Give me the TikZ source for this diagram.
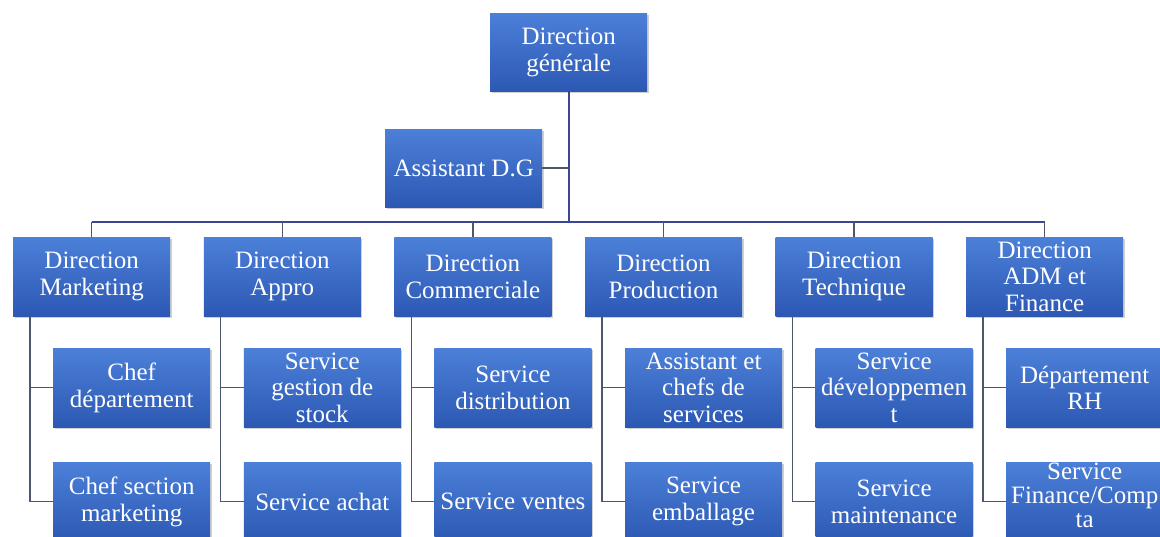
\documentclass[tikz,border=0pt]{standalone}
\usepackage{fontspec}
\setmainfont{Liberation Serif}
\usetikzlibrary{shadows}
\definecolor{boxtop}{RGB}{76,128,216}
\definecolor{boxbot}{RGB}{44,88,180}
\definecolor{trunk}{RGB}{58,70,150}
\definecolor{conn}{RGB}{78,86,108}
\tikzset{
  orgbox/.style={anchor=north west, minimum width=157pt, minimum height=79pt,
    inner sep=0pt, top color=boxtop, bottom color=boxbot, draw=none, text=white,
    align=center, font=\fontsize{25}{26.7}\selectfont,
    drop shadow={shadow xshift=1.5pt, shadow yshift=-2pt, opacity=0.3, fill=black!60}},
  link/.style={draw=conn, line width=1.4pt},
  trunkline/.style={draw=trunk, line width=2.2pt},
  busline/.style={draw=trunk, line width=1.6pt}
}
\begin{document}
\begin{tikzpicture}[x=1pt,y=-1pt]
\fill[white] (0,0) rectangle (1160,537);
\useasboundingbox (0,0) rectangle (1160,537);
\clip (0,0) rectangle (1160,537);

% top
\node[orgbox, minimum height=78pt] (dg) at (490,13) {Direction\\générale};
\node[orgbox, minimum height=78pt] (ad) at (385,129) {Assistant D.G};

% level 2
\node[orgbox] (d1) at (13,237) {Direction\\Marketing};
\node[orgbox] (d2) at (203.6,237) {Direction\\Appro};
\node[orgbox] (d3) at (394.2,237) {Direction\\Commerciale};
\node[orgbox] (d4) at (584.8,237) {Direction\\Production};
\node[orgbox] (d5) at (775.4,237) {Direction\\Technique};
\node[orgbox] (d6) at (966,237) {Direction\\ADM et\\Finance};

% level 3, row 1
\node[orgbox] (a1) at (53,348) {Chef\\département};
\node[orgbox] (a2) at (243.6,348) {Service\\gestion de\\stock};
\node[orgbox] (a3) at (434.2,348) {Service\\distribution};
\node[orgbox] (a4) at (624.8,348) {Assistant et\\chefs de\\services};
\node[orgbox] (a5) at (815.4,348) {Service\\développemen\\t};
\node[orgbox] (a6) at (1006,348) {Département\\RH};

% level 3, row 2
\node[orgbox] (b1) at (53,462) {Chef section\\marketing};
\node[orgbox] (b2) at (243.6,462) {Service achat};
\node[orgbox] (b3) at (434.2,462) {Service ventes};
\node[orgbox] (b4) at (624.8,462) {Service\\emballage};
\node[orgbox] (b5) at (815.4,462) {Service\\maintenance};
\node[orgbox, font=\fontsize{25}{24}\selectfont, text depth=12pt] (b6) at (1006,462) {Service\\Finance/Comp\\ta};

% connectors
\coordinate (bus) at (0,222);
\draw[trunkline] (dg.south) -- (dg.south |- bus);
\draw[link] (ad.east) -- (dg.south |- ad.east);
\draw[busline] (d1.north |- bus) -- (d6.north |- bus);
\foreach \d in {d1,d2,d3,d4,d5,d6}{
  \draw[link] (\d.north |- bus) -- (\d.north);
}
\foreach \d/\a/\b in {d1/a1/b1,d2/a2/b2,d3/a3/b3,d4/a4/b4,d5/a5/b5,d6/a6/b6}{
  \coordinate (br-\d) at ([xshift=17pt]\d.south west);
  \draw[link] (br-\d) |- (\b.west);
  \draw[link] (br-\d |- \a.west) -- (\a.west);
}
\end{tikzpicture}
\end{document}
